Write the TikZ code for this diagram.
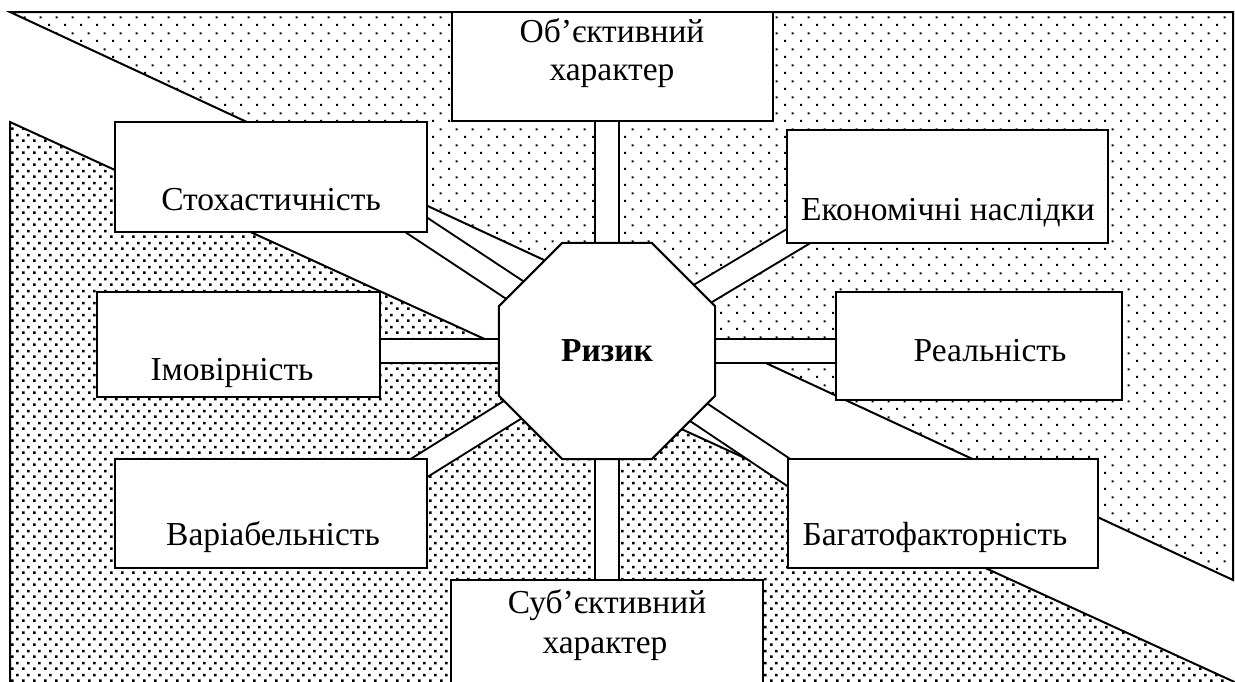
\documentclass[tikz,border=0pt]{standalone}
\usepackage{fontspec}
\setmainfont{Liberation Serif}
\usetikzlibrary{shapes.geometric,patterns.meta,calc}

\pgfdeclarelayer{bg}
\pgfdeclarelayer{mid}
\pgfsetlayers{bg,mid,main}

\tikzdeclarepattern{
  name=sparsedots,
  type=colored,
  bounding box={(0pt,0pt) and (16pt,16pt)},
  tile size={(16pt,16pt)},
  code={
    \fill[black] (0pt,0pt) rectangle (2.2pt,2.2pt);
    \fill[black] (8pt,8pt) rectangle (10.2pt,10.2pt);
  }
}
\tikzdeclarepattern{
  name=densedots,
  type=colored,
  bounding box={(0pt,0pt) and (11pt,12pt)},
  tile size={(11pt,12pt)},
  code={
    \fill[black] (0pt,0pt) rectangle (2.8pt,2.8pt);
    \fill[black] (5.5pt,6pt) rectangle (8.3pt,8.8pt);
  }
}

\begin{document}
\begin{tikzpicture}[x=1pt,y=-1pt,
  box/.style={draw, line width=2pt, fill=white, inner sep=0pt, outer sep=0pt},
  txt/.style={font=\fontsize{33.5pt}{40pt}\selectfont, inner sep=0pt, anchor=base},
  strip/.style={double=white, double distance=22pt, line width=2pt},
  area/.style={line width=2pt}]
\useasboundingbox (0,0) rectangle (1235,681);

% boxes
\node[box, minimum width=321pt, minimum height=109pt] (ob) at (612.5,66.5) {};
\node[box, minimum width=312pt, minimum height=110pt] (st) at (271,177) {};
\node[box, minimum width=321pt, minimum height=113pt] (ek) at (947.5,186.5) {};
\node[box, minimum width=283pt, minimum height=105pt] (im) at (238.5,344.5) {};
\node[box, minimum width=286pt, minimum height=108pt] (re) at (979,346) {};
\node[box, minimum width=312pt, minimum height=109pt] (va) at (271,513.5) {};
\node[box, minimum width=310pt, minimum height=109pt] (bf) at (943,513.5) {};
\node[box, minimum width=312pt, minimum height=110pt] (sb) at (607,635) {};

% texts
\node[txt] (ob1) at (612,42) {Об’єктивний};
\node[txt] (ob2) at (612,80) {характер};
\node[txt] (stt) at (271,210) {Стохастичність};
\node[txt] (ekt) at (948,220) {Економічні наслідки};
\node[txt] (imt) at (232,380) {Імовірність};
\node[txt] (ret) at (990,361) {Реальність};
\node[txt] (vat) at (273,545) {Варіабельність};
\node[txt] (bft) at (935,545) {Багатофакторність};
\node[txt] (sb1) at (607,613) {Суб’єктивний};
\node[txt] (sb2) at (605,653) {характер};

% octagon
\node[regular polygon, regular polygon sides=8, minimum size=234pt, inner sep=0pt,
      draw, line width=2pt, fill=white,
      font=\fontsize{33.5pt}{40pt}\selectfont\bfseries] (oct) at (607,351) {Ризик};

% connectors
\begin{pgfonlayer}{mid}
\draw[strip] (oct.center) -- (oct.center |- ob.center);
\draw[strip, shorten >=-30pt] (oct.center) -- (st.south east);
\draw[strip, shorten >=-30pt] (oct.center) -- (ek.south west);
\draw[strip] (oct.center) -- (oct.center -| im.center);
\draw[strip] (oct.center) -- (oct.center -| re.center);
\draw[strip, shorten >=-30pt] (oct.center) -- ([yshift=-4pt]va.north east);
\draw[strip, shorten >=-30pt] (oct.center) -- ([yshift=-13pt]bf.north west);
\draw[strip] (oct.center) -- (oct.center |- sb.center);
\end{pgfonlayer}

% background triangles
\begin{pgfonlayer}{bg}
\draw[area, pattern=sparsedots] (10,12) -- (1233,12) -- (1233,580) -- cycle;
\draw[area, pattern=densedots] (10,122) -- (1240,684.5) -- (10,684.5) -- cycle;
\end{pgfonlayer}
\end{tikzpicture}
\end{document}
